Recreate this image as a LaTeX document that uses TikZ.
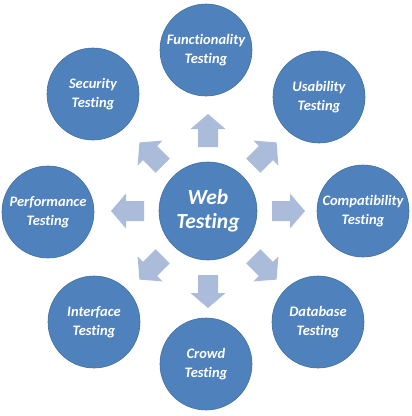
\documentclass[tikz,border=0pt]{standalone}
\usepackage{fontspec}
\setmainfont[Ligatures=NoCommon]{Carlito}
\definecolor{bubfill}{HTML}{4F81BD}
\definecolor{bubline}{HTML}{41709F}
\definecolor{arrcol}{HTML}{AABCDA}
\begin{document}
\begin{tikzpicture}[x=1pt,y=-1pt]
\tikzset{
  bub/.style={circle, fill=bubfill, draw=bubline, line width=0.6pt, minimum size=92pt, inner sep=0pt,
    align=center, text=white, font=\fontsize{14.5}{19}\selectfont\bfseries\itshape},
  bigbub/.style={bub, minimum size=98pt, font=\fontsize{21.5}{24}\selectfont\bfseries\itshape},
  blockarrow/.style={fill=arrcol, draw=none}
}
\fill[white] (0,0) rectangle (412,416);
\useasboundingbox (0,0) rectangle (412,416);
% arrows
\foreach \a in {0,45,...,315}{
  \fill[blockarrow, shift={(208,211)}, rotate=\a]
    (64,-10) -- (82,-10) -- (82,-17.5) -- (97,0) -- (82,17.5) -- (82,10) -- (64,10) -- cycle;
}
\node[bigbub] (web) at (208,211) {Web\\Testing};
\node[bub] (func) at (206,50) {Functionality\\Testing};
\node[bub] (usab) at (319,97) {Usability\\Testing};
\node[bub] (comp) at (363,211) {Compatibility\\Testing};
\node[bub] (data) at (318,322) {Database\\Testing};
\node[bub] (crowd) at (206,364) {Crowd\\Testing};
\node[bub] (inter) at (94,322) {Interface\\Testing};
\node[bub] (perf) at (48,212) {Performance\\Testing};
\node[bub] (secu) at (93,94) {Security\\Testing};
\end{tikzpicture}
\end{document}
